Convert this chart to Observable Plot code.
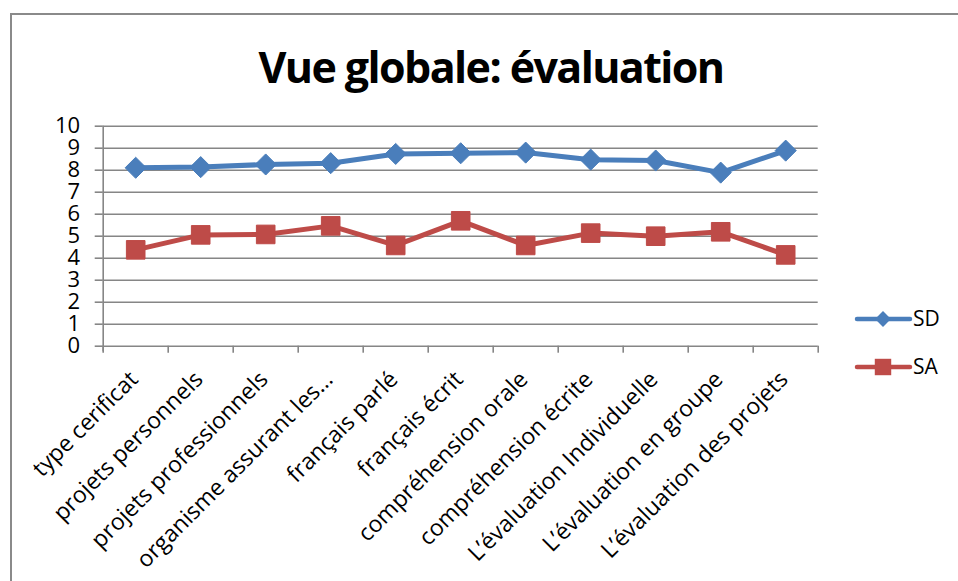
<!DOCTYPE html>
<html>
<head>
<meta charset="utf-8">
<script src="https://cdn.jsdelivr.net/npm/d3@7"></script>
<script src="https://cdn.jsdelivr.net/npm/@observablehq/plot@0.6"></script>
<style>
  html, body { margin: 0; padding: 0; background: #fff; overflow: hidden; }
  #wrap { position: relative; width: 958px; height: 581px; overflow: hidden; font-family: "Open Sans", sans-serif; }
  #frame { position: absolute; left: 10px; top: 13px; width: 980px; height: 600px; border: 2px solid #8a8a8a; box-sizing: border-box; }
  #title { position: absolute; left: 0; width: 982px; top: 37px; text-align: center; font-size: 43px; font-weight: 700; letter-spacing: -1.6px; color: #000; white-space: nowrap; }
  #chart { position: absolute; left: 0; top: 0; }
  #legend { position: absolute; left: 840px; top: 290px; }
</style>
</head>
<body>
<div id="wrap">
  <div id="frame"></div>
  <div id="title">Vue globale: évaluation</div>
  <div id="chart"></div>
  <div id="legend"></div>
</div>
<script>
const categories = [
  "type cerificat",
  "projets personnels",
  "projets professionnels",
  "organisme assurant les…",
  "français parlé",
  "français écrit",
  "compréhension orale",
  "compréhension écrite",
  "L’évaluation Individuelle",
  "L’évaluation en groupe",
  "L’évaluation des projets"
];
const sdValues = [8.11, 8.14, 8.26, 8.32, 8.74, 8.77, 8.80, 8.48, 8.44, 7.89, 8.89];
const saValues = [4.38, 5.06, 5.08, 5.47, 4.58, 5.70, 4.58, 5.14, 5.00, 5.20, 4.15];
const yTicks = [0, 1, 2, 3, 4, 5, 6, 7, 8, 9, 10];
const seriesNames = ["SD", "SA"];
const seriesColors = ["#4A7EBB", "#BE4B48"];

const idx = categories.map((_, i) => i);
const boundaries = [...idx.map(i => i - 0.5), categories.length - 0.5];
const sdData = idx.map(i => ({i, v: sdValues[i]}));
const saData = idx.map(i => ({i, v: saValues[i]}));

const gray = "#868686";
const chart = Plot.plot({
  width: 958,
  height: 581,
  marginLeft: 102.7,
  marginRight: 140.3,
  marginTop: 125.7,
  marginBottom: 235.3,
  style: { fontFamily: "Open Sans, sans-serif", fontSize: "20px", color: "#000", background: "transparent", overflow: "visible" },
  x: { type: "linear", domain: [-0.5, categories.length - 0.5] },
  y: { domain: [0, 10] },
  marks: [
    Plot.gridY(yTicks, { stroke: gray, strokeOpacity: 1, strokeWidth: 1.6 }),
    Plot.ruleX([-0.5], { y1: -0.25, y2: 10, stroke: gray, strokeWidth: 1.6 }),
    Plot.axisY({ ticks: yTicks, tickSize: 8, tickPadding: 15, stroke: gray, strokeWidth: 1.6, fontSize: 22, label: null }),
    Plot.axisX({ ticks: boundaries, tickFormat: () => "", tickSize: 7, stroke: gray, strokeWidth: 1.6, label: null }),
    Plot.text(categories, {
      x: (d, i) => i, frameAnchor: "bottom", text: d => d,
      rotate: -45, textAnchor: "end", lineAnchor: "top",
      dx: -8, dy: 23, fontSize: 23, fill: "#000"
    }),
    Plot.line(sdData, { x: "i", y: "v", stroke: seriesColors[0], strokeWidth: 5, strokeLinejoin: "round", strokeLinecap: "round" }),
    Plot.line(saData, { x: "i", y: "v", stroke: seriesColors[1], strokeWidth: 5, strokeLinejoin: "round", strokeLinecap: "round" }),
    Plot.dot(sdData, { x: "i", y: "v", symbol: "diamond2", r: 9.5, fill: seriesColors[0], stroke: seriesColors[0], strokeWidth: 1 }),
    Plot.dot(saData, { x: "i", y: "v", symbol: "square", r: 10.5, fill: seriesColors[1], stroke: seriesColors[1], strokeWidth: 1 })
  ]
});
document.getElementById("chart").appendChild(chart);

// Legend
const leg = d3.select("#legend").append("svg").attr("width", 118).attr("height", 100)
  .style("font-family", "Open Sans, sans-serif");
seriesNames.forEach((name, k) => {
  const cy = 29 + k * 48;
  const g = leg.append("g");
  g.append("line").attr("x1", 17).attr("x2", 70).attr("y1", cy).attr("y2", cy)
    .attr("stroke", seriesColors[k]).attr("stroke-width", 4.5).attr("stroke-linecap", "round");
  const sym = k === 0 ? d3.symbolDiamond2 : d3.symbolSquare;
  const size = k === 0 ? 160 : 270;
  g.append("path").attr("d", d3.symbol(sym, size)()).attr("transform", `translate(43,${cy})`)
    .attr("fill", seriesColors[k]);
  g.append("text").attr("x", 73).attr("y", cy).attr("dy", "0.35em").attr("font-size", 21).text(name);
});
</script>
</body>
</html>
